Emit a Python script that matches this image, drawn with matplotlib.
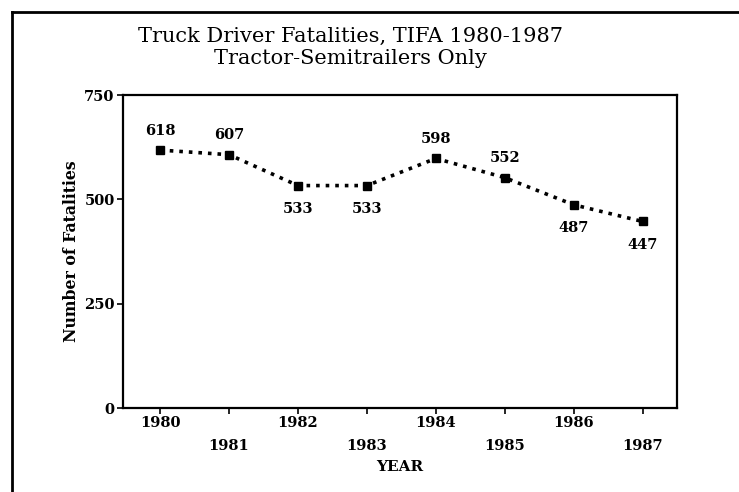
import matplotlib
matplotlib.use('Agg')
import matplotlib.pyplot as plt
from matplotlib.lines import Line2D

# data
years = [1980, 1981, 1982, 1983, 1984, 1985, 1986, 1987]
fatalities = [618, 607, 533, 533, 598, 552, 487, 447]
# label above (+1) or below (-1) the point
label_side = [1, 1, -1, -1, 1, 1, -1, -1]
y_ticks = [0, 250, 500, 750]

plt.rcParams['font.family'] = ['DejaVu Serif']

fig = plt.figure(figsize=(7.39, 4.92), dpi=100)
ax = fig.add_axes([0.1664, 0.1707, 0.7497, 0.6362])

ax.plot(years, fatalities, linestyle=':', linewidth=2.6, color='black',
        marker='s', markersize=5.5, markerfacecolor='black', markeredgecolor='black')

for x, v, side in zip(years, fatalities, label_side):
    off = 14 if side > 0 else -17
    ax.annotate(str(v), (x, v), xytext=(0, off), textcoords='offset points',
                ha='center', va='center', fontsize=10.5, fontweight='bold')

ax.set_xlim(1979.46, 1987.5)
ax.set_ylim(0, 750)
ax.set_yticks(y_ticks)
ax.set_yticklabels([str(t) for t in y_ticks], fontsize=10.5, fontweight='bold')
ax.set_xticks(years)
ax.set_xticklabels([str(y) if i % 2 == 0 else '\n' + str(y) for i, y in enumerate(years)],
                   fontsize=10.5, fontweight='bold', linespacing=1.75)
ax.tick_params(axis='both', direction='out', length=4, width=1.2, pad=2)

for s in ax.spines.values():
    s.set_linewidth(1.6)

ax.set_xlabel('YEAR', fontsize=11, fontweight='bold', labelpad=5)
ax.set_ylabel('Number of Fatalities', fontsize=11.3, fontweight='bold', labelpad=3)

fig.text(0.474, 0.925, 'Truck Driver Fatalities, TIFA 1980-1987', ha='center', va='center',
         fontsize=15)
fig.text(0.474, 0.882, 'Tractor-Semitrailers Only', ha='center', va='center', fontsize=15)

# outer frame (only left and top edges show)
fig.add_artist(Line2D([12 / 739, 12 / 739], [0, 1 - 12 / 492], transform=fig.transFigure,
                      color='black', linewidth=2))
fig.add_artist(Line2D([12 / 739, 1], [1 - 12 / 492, 1 - 12 / 492], transform=fig.transFigure,
                      color='black', linewidth=2))

fig.savefig('out.png', dpi=100)
